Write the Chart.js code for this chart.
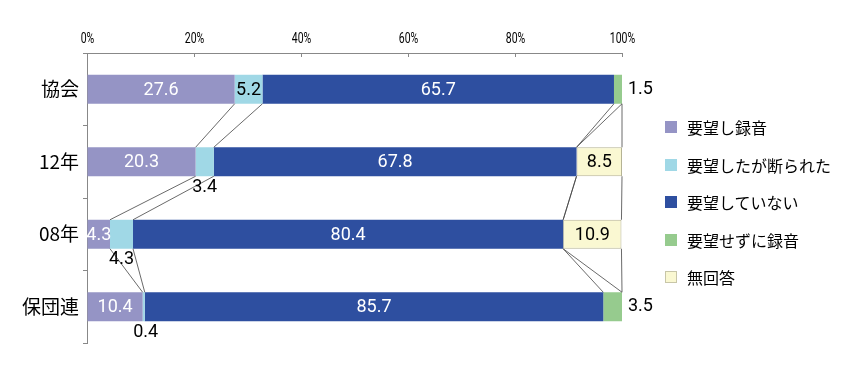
<!DOCTYPE html>
<html>
<head>
<meta charset="utf-8">
<script src="https://cdn.jsdelivr.net/npm/chart.js@4.4.1/dist/chart.umd.min.js"></script>
<style>
    body { margin: 0; background: #fff; }
    #wrap { position: relative; width: 850px; height: 369px; }
    #legend { position: absolute; left: 665px; top: 117px; font-family: "Noto Sans CJK JP", sans-serif; font-size: 16px; color: #000; }
    .item { height: 37.5px; display: flex; align-items: flex-start; }
    .item span.box { width: 12px; height: 12px; margin-top: 4px; margin-right: 10px; box-sizing: border-box; }
    .item span.txt { line-height: 20px; }
</style>
</head>
<body>
<div id="wrap">
    <canvas id="BarChart" width="850" height="369"></canvas>
    <div id="legend"></div>
</div>
<script>
// categories (top to bottom)
const categories = ["協会", "12年", "08年", "保団連"];

// series values (%)
const seriesNames = ["要望し録音", "要望したが断られた", "要望していない", "要望せずに録音", "無回答"];
const recorded = [27.6, 20.3, 4.3, 10.4];
const refused = [5.2, 3.4, 4.3, 0.4];
const notAsked = [65.7, 67.8, 80.4, 85.7];
const recordedAnyway = [1.5, 0, 0, 3.5];
const noAnswer = [0, 8.5, 10.9, 0];

const xTicks = [0, 20, 40, 60, 80, 100];

const colors = ["#9594C5", "#A0D8E6", "#2E4FA0", "#96CB8E", "#FAF8D2"];
const borders = ["#9594C5", "#A0D8E6", "#2E4FA0", "#96CB8E", "#B5B394"];
const labelColors = ["#fff", "#000", "#fff", "#000", "#000"];

const allSeries = [recorded, refused, notAsked, recordedAnyway, noAnswer];

// build legend
let legendDiv = document.getElementById("legend");
seriesNames.forEach((name, i) => {
    let item = document.createElement("div");
    item.className = "item";
    item.innerHTML = '<span class="box" style="background:' + colors[i] + ';' +
        (i === 4 ? 'border:1px solid #C8C6A8;' : '') + '"></span><span class="txt">' + name + '</span>';
    legendDiv.appendChild(item);
});

const numFont = '18px Roboto, "Liberation Sans", sans-serif';

// series lines, top axis ticks + labels, data labels
const extras = {
    id: "extras",
    afterDatasetsDraw(chart) {
        let ctx = chart.ctx;
        let xs = chart.scales.x;
        let area = chart.chartArea;

        // series lines between bars
        ctx.save();
        ctx.strokeStyle = "#444";
        ctx.lineWidth = 0.8;
        for (let k = 0; k < categories.length - 1; k++) {
            let cum1 = 0, cum2 = 0;
            let m1 = chart.getDatasetMeta(0).data[k];
            let m2 = chart.getDatasetMeta(0).data[k + 1];
            let yBottom = m1.y + m1.height / 2;
            let yTop = m2.y - m2.height / 2;
            for (let s = 0; s < allSeries.length; s++) {
                cum1 += allSeries[s][k];
                cum2 += allSeries[s][k + 1];
                ctx.beginPath();
                ctx.moveTo(xs.getPixelForValue(Math.min(cum1, 100)), yBottom);
                ctx.lineTo(xs.getPixelForValue(Math.min(cum2, 100)), yTop);
                ctx.stroke();
            }
        }
        ctx.restore();

        // inner tick marks and narrow labels on top axis
        ctx.save();
        ctx.strokeStyle = "#888";
        ctx.lineWidth = 1;
        ctx.fillStyle = "#000";
        ctx.font = '15px Roboto, sans-serif';
        ctx.textAlign = "center";
        ctx.textBaseline = "middle";
        xTicks.forEach(v => {
            let px = Math.round(xs.getPixelForValue(v)) + 0.5;
            ctx.beginPath();
            ctx.moveTo(px, area.top);
            ctx.lineTo(px, area.top + 4);
            ctx.stroke();
            ctx.save();
            ctx.translate(px, area.top - 14);
            ctx.scale(0.7, 1);
            ctx.fillText(v + "%", 0, 0);
            ctx.restore();
        });
        ctx.restore();

        // data labels
        ctx.save();
        ctx.font = numFont;
        ctx.textBaseline = "middle";
        chart.data.datasets.forEach((ds, s) => {
            let meta = chart.getDatasetMeta(s);
            ds.data.forEach((v, k) => {
                if (!v) return;
                let el = meta.data[k];
                let cx = (el.x + el.base) / 2;
                let text = v.toFixed(1);
                ctx.fillStyle = labelColors[s];
                if (s === 3) {
                    ctx.fillStyle = "#000";
                    ctx.textAlign = "left";
                    ctx.fillText(text, el.x + 6, el.y);
                } else if (s === 1 && v < 5) {
                    ctx.fillStyle = "#000";
                    ctx.textAlign = "center";
                    ctx.fillText(text, cx + (v < 1 ? 2 : 0), el.y + el.height / 2 + 11);
                } else {
                    ctx.textAlign = "center";
                    ctx.fillText(text, cx, el.y + 1);
                }
            });
        });
        ctx.restore();
    }
};

let ctx = document.getElementById("BarChart").getContext("2d");
let barChart = new Chart(ctx, {
    type: "bar",
    data: {
        labels: categories,
        datasets: allSeries.map((vals, i) => ({
            label: seriesNames[i],
            data: vals,
            backgroundColor: colors[i],
            borderColor: borders[i],
            borderWidth: i === 4 ? 1 : 0,
            borderSkipped: false,
            categoryPercentage: 0.4,
            barPercentage: 1
        }))
    },
    options: {
        indexAxis: "y",
        responsive: false,
        animation: false,
        layout: {
            padding: {left: 0, right: 228, top: 0, bottom: 26}
        },
        plugins: {
            legend: {display: false},
            tooltip: {enabled: false}
        },
        scales: {
            x: {
                position: "top",
                stacked: true,
                min: 0,
                max: 100,
                afterFit: (scale) => { scale.height = 53; },
                ticks: {stepSize: 20, display: false},
                grid: {drawOnChartArea: false, tickLength: 0},
                border: {color: "#888"}
            },
            y: {
                stacked: true,
                afterFit: (scale) => { scale.width = 87; },
                ticks: {
                    padding: 4,
                    color: "#000",
                    font: {family: '"Noto Sans CJK JP", sans-serif', size: 19}
                },
                grid: {drawOnChartArea: false, offset: true, tickLength: 4, color: "#888"},
                border: {color: "#888"}
            }
        }
    },
    plugins: [extras]
});
</script>
</body>
</html>
